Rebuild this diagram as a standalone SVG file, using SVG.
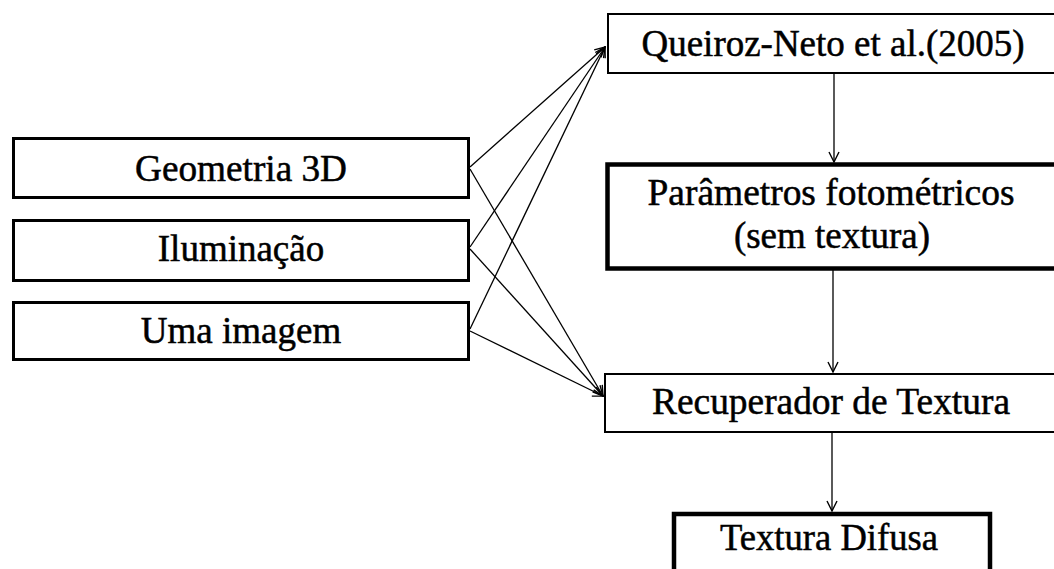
<svg xmlns="http://www.w3.org/2000/svg" width="1054" height="569" viewBox="0 0 1054 569">
<defs>
<marker id="arr" viewBox="0 0 12 12" refX="11" refY="6" markerWidth="12" markerHeight="12" markerUnits="userSpaceOnUse" orient="auto">
<path d="M1,1 L11,6 L1,11" fill="none" stroke="#000" stroke-width="1.4"/>
</marker>
<style>
.t{font-family:"Liberation Serif","Times New Roman",serif;font-size:37px;fill:#000;stroke:#000;stroke-width:0.5;text-anchor:middle}
.b1{fill:#fff;stroke:#000;stroke-width:3}
.b2{fill:#fff;stroke:#000;stroke-width:2}
.b3{fill:#fff;stroke:#000;stroke-width:4.5}
.c{fill:none;stroke:#000;stroke-width:1.3;marker-end:url(#arr)}
</style>
</defs>
<rect width="1054" height="569" fill="#fff"/>
<g id="connectors">
<line class="c" x1="470" y1="167" x2="605" y2="47"/>
<line class="c" x1="470" y1="247" x2="605" y2="47"/>
<line class="c" x1="470" y1="329" x2="605" y2="47"/>
<line class="c" x1="470" y1="169" x2="603" y2="396"/>
<line class="c" x1="470" y1="249" x2="603" y2="396"/>
<line class="c" x1="470" y1="331" x2="603" y2="396"/>
<line class="c" x1="834" y1="73" x2="834" y2="162"/>
<line class="c" x1="833" y1="270" x2="833" y2="372"/>
<line class="c" x1="832" y1="432" x2="832" y2="511"/>
</g>
<g id="geometria">
<rect class="b1" x="13.5" y="138.5" width="455" height="59"/>
<text class="t" x="241" y="181" textLength="212" lengthAdjust="spacingAndGlyphs">Geometria 3D</text>
</g>
<g id="iluminacao">
<rect class="b1" x="13.5" y="220.5" width="455" height="60"/>
<text class="t" x="241" y="261">Iluminação</text>
</g>
<g id="imagem">
<rect class="b1" x="13.5" y="302.5" width="455" height="57"/>
<text class="t" x="241" y="343">Uma imagem</text>
</g>
<g id="queiroz">
<rect class="b2" x="608" y="14" width="460" height="59"/>
<text class="t" x="833" y="56" textLength="383" lengthAdjust="spacingAndGlyphs">Queiroz-Neto et al.(2005)</text>
</g>
<g id="parametros">
<rect class="b3" x="607.5" y="164.5" width="460" height="104"/>
<text class="t" x="831" y="205" textLength="367" lengthAdjust="spacingAndGlyphs">Parâmetros fotométricos</text>
<text class="t" x="832" y="248">(sem textura)</text>
</g>
<g id="recuperador">
<rect class="b2" x="605" y="374" width="460" height="58"/>
<text class="t" x="831" y="414" textLength="358" lengthAdjust="spacingAndGlyphs">Recuperador de Textura</text>
</g>
<g id="textura">
<rect class="b3" x="674" y="514" width="316" height="80"/>
<text class="t" x="829" y="550" textLength="218" lengthAdjust="spacingAndGlyphs">Textura Difusa</text>
</g>
</svg>
